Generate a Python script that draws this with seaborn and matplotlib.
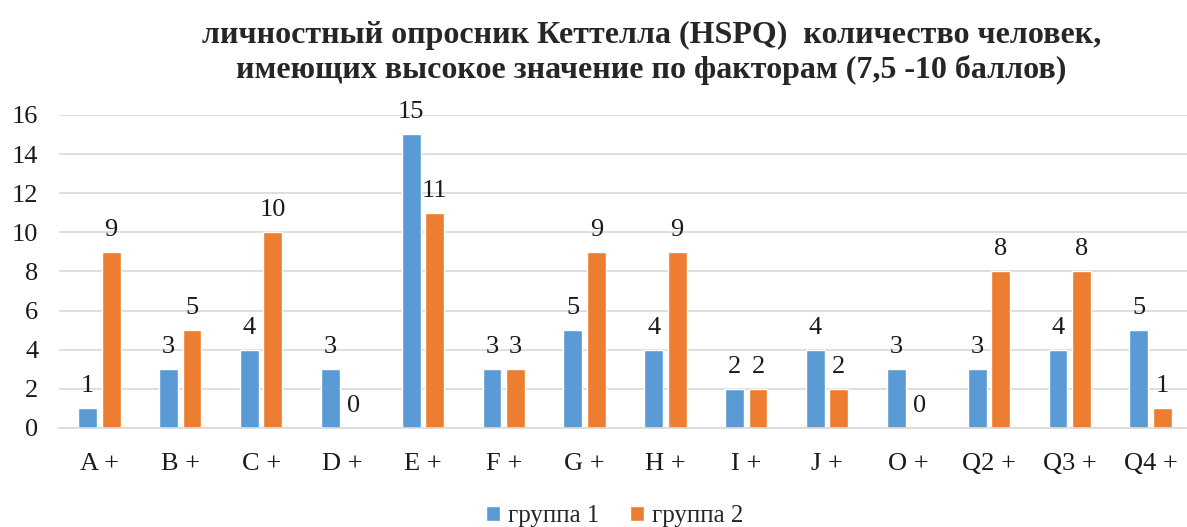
import pandas as pd
import matplotlib
matplotlib.use("Agg")
import matplotlib.pyplot as plt
import seaborn as sns

factors = ['A +', 'B +', 'C +', 'D +', 'E +', 'F +', 'G +', 'H +', 'I +', 'J +', 'O +', 'Q2 +', 'Q3 +', 'Q4 +']
group1 = [1, 3, 4, 3, 15, 3, 5, 4, 2, 4, 3, 3, 4, 5]
group2 = [9, 5, 10, 0, 11, 3, 9, 9, 2, 2, 0, 8, 8, 1]
series_names = ['группа 1', 'группа 2']
colors = ['#5B9BD5', '#ED7D31']

df = pd.DataFrame({
    'factor': factors * 2,
    'value': group1 + group2,
    'group': [series_names[0]] * len(factors) + [series_names[1]] * len(factors),
})

sns.set_theme(style="white")
plt.rcParams['font.family'] = ['Liberation Serif', 'DejaVu Serif']

fig = plt.figure(figsize=(11.87, 5.27), dpi=100)
ax = fig.add_axes([59 / 1187, 0.188, 1132 / 1187, 0.594])

sns.barplot(data=df, x='factor', y='value', hue='group', palette=colors,
            width=0.58, gap=0.2, ax=ax, legend=True, saturation=1)

for cont in ax.containers:
    ax.bar_label(cont, fontsize=19, padding=8, color='#1a1a1a')

ax.set_ylim(0, 16)
ax.set_yticks(range(0, 17, 2))
ax.yaxis.grid(True, color='#d9d9d9', linewidth=1.2)
ax.set_axisbelow(True)
for s in ['top', 'right', 'left']:
    ax.spines[s].set_visible(False)
ax.spines['bottom'].set_color('#d9d9d9')
ax.spines['bottom'].set_linewidth(1.2)
ax.tick_params(axis='both', length=0, labelsize=19, colors='#1a1a1a')
ax.tick_params(axis='x', pad=18)
ax.tick_params(axis='y', pad=15)
ax.set_xlabel('')
ax.set_ylabel('')

handles, labels = ax.get_legend_handles_labels()
ax.legend_.remove()
fig.legend(handles, labels, loc='center', bbox_to_anchor=(0.518, 0.02), ncol=2,
           frameon=False, fontsize=18, handlelength=0.55, handleheight=0.55,
           columnspacing=1.2, handletextpad=0.35)

fig.text(0.549, 0.9, 'личностный опросник Кеттелла (HSPQ)  количество человек,\nимеющих высокое значение по факторам (7,5 -10 баллов)',
         ha='center', va='center', fontsize=23, fontweight='bold', linespacing=1.2)

fig.savefig('out.png', dpi=100)
